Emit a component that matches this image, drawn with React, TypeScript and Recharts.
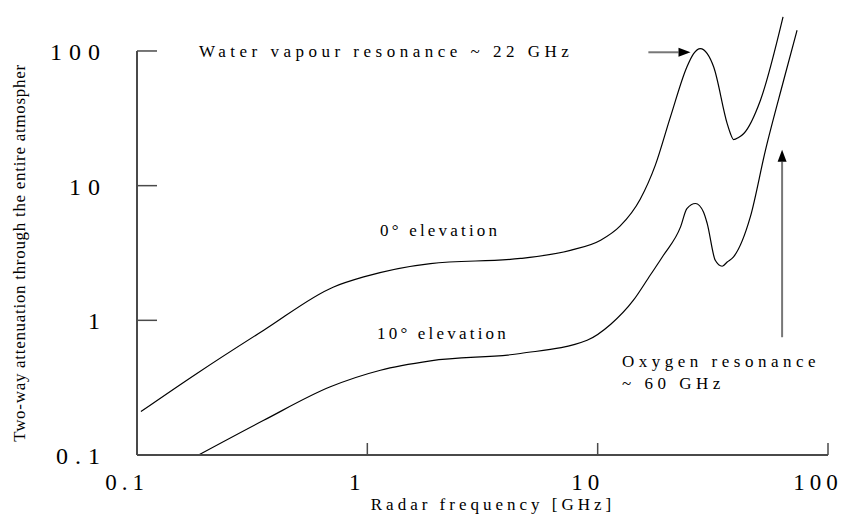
import React from 'react';
import { Customized, Line, LineChart, ReferenceLine, XAxis, YAxis } from 'recharts';

// 0° elevation curve, frequency [GHz] / two-way attenuation [dB]
const freq0 = [0.104, 0.182, 0.355, 0.714, 0.964, 1.88, 4.62, 7.61, 10.3, 12.5, 15.3, 17.8, 20.7, 24.4, 26.1, 27.9, 29.9, 31.9, 36.5, 37.7, 38.9, 40.9, 43.1, 50.9, 63.8];
const atten0 = [0.21, 0.403, 0.844, 1.77, 2.1, 2.64, 2.88, 3.31, 3.93, 5.0, 7.93, 14.2, 32.4, 76.1, 95.6, 104, 95.6, 76, 28.9, 24.4, 22.0, 22.8, 24.4, 43.1, 179];

// 10° elevation curve
const freq10 = [0.185, 0.355, 0.691, 1.14, 1.88, 4.62, 9.0, 11.4, 14.3, 16.9, 19.3, 22.9, 24.4, 26.6, 28.8, 29.9, 32.4, 34.7, 36.5, 38.9, 46.0, 53.5, 64.2, 73.4];
const atten10 = [0.1, 0.181, 0.321, 0.426, 0.5, 0.567, 0.711, 0.935, 1.41, 2.16, 3.04, 4.94, 6.76, 7.37, 6.38, 5.23, 2.79, 2.52, 2.71, 2.96, 5.86, 18.3, 60.6, 142.6];

const xTicks = [0.1, 1, 10, 100];
const yTicks = [0.1, 1, 10, 100];

// arrows: [from, to] in data units
const waterArrow = [{ x: 16.6, y: 97.8 }, { x: 25.3, y: 97.8 }];
const oxygenArrow = [{ x: 63.2, y: 0.749 }, { x: 63.2, y: 18.5 }];

const AXIS = '#4a4a4a';
const FONT = '"Liberation Serif", "Times New Roman", serif';

const series0 = freq0.map((f, i) => ({ f, v: atten0[i] }));
const series10 = freq10.map((f, i) => ({ f, v: atten10[i] }));

const YTick = (props: any) => {
  const { x, y, payload } = props;
  return (
    <g>
      <line x1={x} y1={y} x2={x + 20} y2={y} stroke={AXIS} strokeWidth={1.5} />
      <text x={x - 30} y={y + 9} textAnchor="end" fontFamily={FONT} fontSize={24} letterSpacing={7} fill="#000">
        {String(payload.value)}
      </text>
    </g>
  );
};

const XTick = (props: any) => {
  const { x, y, payload } = props;
  return (
    <g>
      <line x1={x} y1={y} x2={x} y2={y - 12} stroke={AXIS} strokeWidth={1.5} />
      <text x={x - 10} y={y + 35} textAnchor="middle" fontFamily={FONT} fontSize={23} letterSpacing={5} fill="#000">
        {String(payload.value)}
      </text>
    </g>
  );
};

const Arrow = (props: any) => {
  const { x1, y1, x2, y2 } = props;
  const dx = x2 - x1;
  const dy = y2 - y1;
  const len = Math.sqrt(dx * dx + dy * dy) || 1;
  const ux = dx / len;
  const uy = dy / len;
  const head = 12;
  const bx = x2 - ux * head;
  const by = y2 - uy * head;
  const px = -uy * 4.5;
  const py = ux * 4.5;
  return (
    <g>
      <line x1={x1} y1={y1} x2={bx} y2={by} stroke="#777" strokeWidth={2} />
      <polygon points={`${x2},${y2} ${bx + px},${by + py} ${bx - px},${by - py}`} fill="#000" />
    </g>
  );
};

const Annotations = () => (
  <g fill="#000" fontFamily={FONT}>
    <text x={199} y={57} fontSize={17} letterSpacing={4.5}>Water vapour resonance ~ 22 GHz</text>
    <text x={380} y={236} fontSize={17} letterSpacing={3.2}>0° elevation</text>
    <text x={377} y={339} fontSize={17} letterSpacing={3.2}>10° elevation</text>
    <text x={622} y={367} fontSize={17} letterSpacing={4.5}>Oxygen resonance</text>
    <text x={622} y={389} fontSize={17} letterSpacing={4.5}>~ 60 GHz</text>
    <text x={493} y={510} fontSize={17} letterSpacing={4} textAnchor="middle">Radar frequency [GHz]</text>
    <text transform="rotate(-90)" x={-253} y={25} fontSize={17} letterSpacing={0.7} textAnchor="middle">
      Two-way attenuation through the entire atmospher
    </text>
  </g>
);

export default function App() {
  return (
    <div style={{ position: 'absolute', left: 0, top: 0, fontFamily: FONT, background: '#fff' }}>
      <LineChart width={844} height={514} margin={{ top: 15, right: 16, bottom: 19, left: 77 }}>
        <XAxis
          dataKey="f"
          type="number"
          scale="log"
          domain={[0.1, 100]}
          ticks={xTicks}
          allowDataOverflow
          height={40}
          tickSize={0}
          tickMargin={0}
          tickLine={false}
          axisLine={{ stroke: AXIS, strokeWidth: 2 }}
          tick={<XTick />}
        />
        <YAxis
          type="number"
          scale="log"
          domain={[0.1, 185]}
          ticks={yTicks}
          allowDataOverflow
          width={60}
          tickSize={0}
          tickMargin={0}
          tickLine={false}
          axisLine={false}
          tick={<YTick />}
        />
        <ReferenceLine
          segment={[{ x: 0.1, y: 0.1 }, { x: 0.1, y: 100 }]}
          stroke={AXIS}
          strokeWidth={2}
          ifOverflow="visible"
        />
        <ReferenceLine segment={waterArrow} ifOverflow="visible" shape={<Arrow />} />
        <ReferenceLine segment={oxygenArrow} ifOverflow="visible" shape={<Arrow />} />
        <Line data={series0} dataKey="v" type="monotone" stroke="#000" strokeWidth={1.2} dot={false} isAnimationActive={false} />
        <Line data={series10} dataKey="v" type="monotone" stroke="#000" strokeWidth={1.2} dot={false} isAnimationActive={false} />
        <Customized component={<Annotations />} />
      </LineChart>
    </div>
  );
}
